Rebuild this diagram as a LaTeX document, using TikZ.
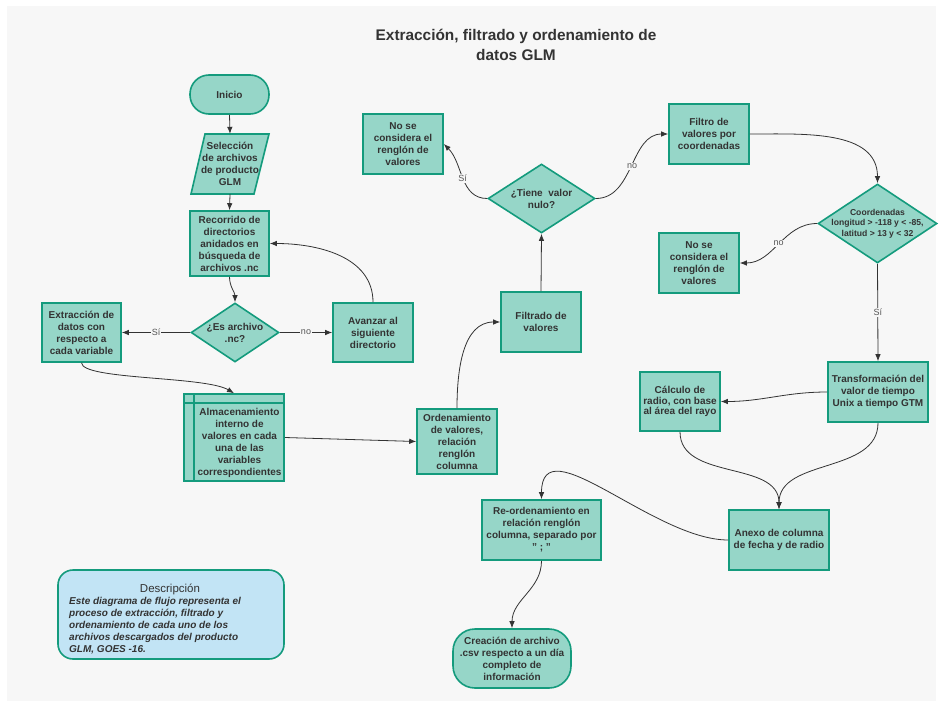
\documentclass[tikz,border=0pt]{standalone}
\usepackage{fontspec}
\setmainfont{Liberation Sans}
\usetikzlibrary{shapes.geometric,arrows.meta}
\definecolor{bgc}{HTML}{F7F7F7}
\definecolor{fillc}{HTML}{96D6C8}
\definecolor{bordc}{HTML}{149B7D}
\definecolor{descc}{HTML}{C2E4F5}
\definecolor{txtc}{HTML}{333333}
\definecolor{linec}{HTML}{333333}
\definecolor{lblc}{HTML}{555555}
\begin{document}
\begin{tikzpicture}[x=1pt,y=-1pt,
  nfont/.style={font=\fontsize{10}{12}\selectfont\bfseries},
  proc/.style={rectangle, draw=bordc, fill=fillc, line width=1.6pt, inner sep=0pt, align=center, text=txtc, nfont},
  term/.style={proc, rounded corners=19pt},
  dia/.style={diamond, draw=bordc, fill=fillc, line width=1.6pt, inner sep=0pt},
  txt/.style={inner sep=0pt, align=center, text=txtc, nfont},
  conn/.style={draw=linec, line width=0.8pt, -{Latex[length=7pt,width=5.5pt]}},
  lbl/.style={fill=bgc, inner sep=1pt, font=\fontsize{9}{10}\selectfont, text=lblc},
]
\useasboundingbox (0,0) rectangle (941,709);
\fill[white] (0,0) rectangle (941,709);
\fill[bgc] (7,6) rectangle (936,701);

\node[font=\fontsize{15.4}{20}\selectfont\bfseries, text=txtc, align=center] (title) at (516,45) {Extracción, filtrado y ordenamiento de\\datos GLM};

% left column
\node[term, minimum width=79pt, minimum height=39pt] (ini) at (229.5,94.5) {Inicio};
\filldraw[draw=bordc, fill=fillc, line width=1.6pt, line join=miter] (205,134) -- (269,134) -- (254,194) -- (191,194) -- cycle;
\node[txt, minimum width=64pt, minimum height=60pt] (sel) at (230,164) {Selección\\de archivos\\de producto\\GLM};
\node[proc, minimum width=79pt, minimum height=65pt] (rec) at (229.5,243.5) {Recorrido de\\directorios\\anidados en\\búsqueda de\\archivos .nc};
\node[dia, minimum width=88pt, minimum height=59pt] (d1) at (235,332.5) {};
\node[txt] (d1t) at (d1) {¿Es archivo\\.nc?};
\node[proc, minimum width=79pt, minimum height=59pt] (ext) at (81.5,332.5) {Extracción de\\datos con\\respecto a\\cada variable};
\node[proc, minimum width=80pt, minimum height=59pt] (ava) at (373,332.5) {Avanzar al\\siguiente\\directorio};
\node[proc, minimum width=100pt, minimum height=87pt] (alm) at (234,437.5) {};
\draw[bordc, line width=1.6pt] ([yshift=-10pt]alm.north west) -- ([yshift=-10pt]alm.north east);
\draw[bordc, line width=1.6pt] ([xshift=11pt]alm.north west) -- ([xshift=11pt]alm.south west);
\node[txt] (almt) at (239.5,442.5) {Almacenamiento\\interno de\\valores en cada\\una de las\\variables\\correspondientes};
\node[proc, minimum width=80pt, minimum height=65pt] (ord) at (457,441.5) {Ordenamiento\\de valores,\\relación\\renglón\\columna};

% middle
\node[proc, minimum width=80pt, minimum height=60pt] (fil) at (541,322) {Filtrado de\\valores};
\node[dia, minimum width=107pt, minimum height=69pt] (d2) at (541.5,198.5) {};
\node[txt] (d2t) at (d2) {¿Tiene~~valor\\nulo?};
\node[proc, minimum width=80pt, minimum height=60pt] (nsc1) at (403,144) {No se\\considera el\\renglón de\\valores};
\node[proc, minimum width=80pt, minimum height=60pt] (filtro) at (709,134) {Filtro de\\valores por\\coordenadas};
\node[dia, minimum width=119pt, minimum height=79pt] (d3) at (877.5,223.5) {};
\node[txt, font=\fontsize{8.6}{10.5}\selectfont\bfseries] (d3t) at (d3) {Coordenadas\\longitud > -118 y < -85,\\latitud > 13 y < 32};
\node[proc, minimum width=80pt, minimum height=60pt] (nsc2) at (699,263) {No se\\considera el\\renglón de\\valores};
\node[proc, minimum width=100pt, minimum height=60pt] (tra) at (878,392) {Transformación del\\valor de tiempo\\Unix a tiempo GTM};
\node[proc, minimum width=80pt, minimum height=59pt, font=\fontsize{10}{10.8}\selectfont\bfseries] (cal) at (680,401.5) {Cálculo de\\radio, con base\\al área del rayo};
\node[proc, minimum width=100pt, minimum height=60pt] (ane) at (779,540) {Anexo de columna\\de fecha y de radio};
\node[proc, minimum width=119pt, minimum height=60pt] (reo) at (541.5,530) {Re-ordenamiento en\\relación renglón\\columna, separado por\\" ; "};
\node[proc, rounded corners=22pt, minimum width=118pt, minimum height=59pt] (cre) at (512,658.5) {Creación de archivo\\.csv respecto a un día\\completo de\\información};

% description
\node[rectangle, rounded corners=15pt, draw=bordc, fill=descc, line width=1.6pt, minimum width=226pt, minimum height=89pt] (desc) at (171,614.5) {};
\node[font=\fontsize{11.5}{13}\selectfont, text=txtc] (desch) at (170,589) {Descripción};
\node[font=\fontsize{10}{12}\selectfont\bfseries\itshape, text=txtc, align=left, anchor=west, inner sep=0pt] (descb) at (69,626) {Este diagrama de flujo representa el\\proceso de extracción, filtrado y\\ordenamiento de cada uno de los\\archivos descargados del producto\\GLM, GOES -16.};

% connectors
\draw[conn] (ini.south) -- (sel.north);
\draw[conn] (sel.south) -- (rec.north);
\draw[conn] (rec.south) to[out=-90,in=90] (d1.north);
\draw[conn] (d1.west) -- node[lbl]{Sí} (ext.east);
\draw[conn] (d1.east) -- node[lbl]{no} (ava.west);
\draw[conn] (ava.north) to[out=90,in=0] (rec.east);
\draw[conn] (ext.south) .. controls (82,380) and (205,376) .. (alm.north);
\draw[conn] (alm.east) -- (ord.west);
\draw[conn] (ord.north) to[out=90,in=180] (fil.west);
\draw[conn] (fil.north) -- (d2.south);
\draw[conn] (d2.west) to[out=180,in=-45] node[lbl]{Sí} (nsc1.east);
\draw[conn] (d2.east) to[out=0,in=180] node[lbl]{no} (filtro.west);
\draw[conn] (filtro.east) to[out=0,in=90] (d3.north);
\draw[conn] (d3.west) to[out=180,in=0] node[lbl]{no} (nsc2.east);
\draw[conn] (d3.south) -- node[lbl]{Sí} (tra.north);
\draw[conn] (tra.west) to[out=180,in=0] (cal.east);
\draw[conn] (cal.south) to[out=-90,in=90] (ane.north);
\draw[conn] (tra.south) to[out=-90,in=90] (ane.north);
\draw[conn] (ane.west) to[out=180,in=90] (reo.north);
\draw[conn] (reo.south) to[out=-90,in=90] (cre.north);
\end{tikzpicture}
\end{document}
